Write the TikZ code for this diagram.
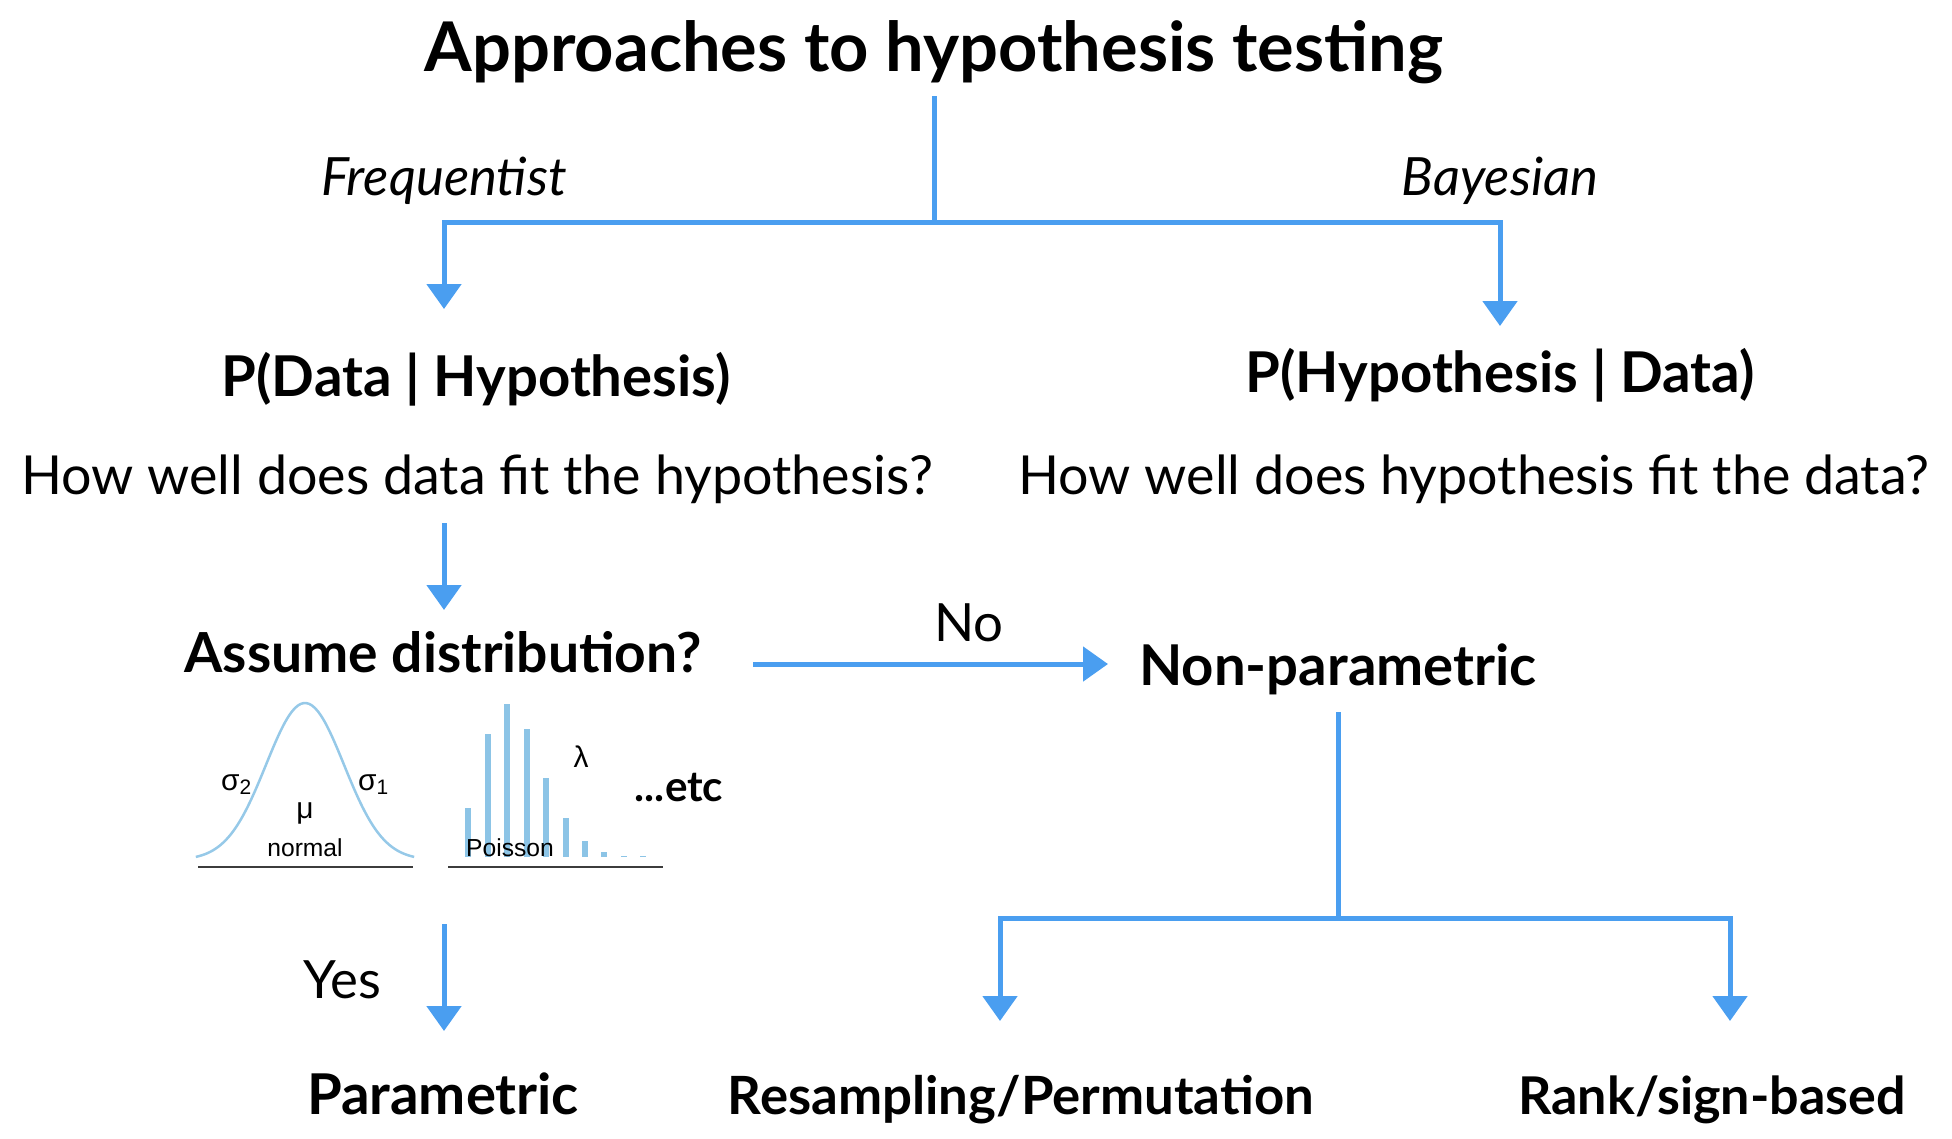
\documentclass[tikz,border=0pt]{standalone}
\usepackage{fontspec}
\setmainfont{Lato}
\newfontfamily\plotfont{Liberation Sans}
\usetikzlibrary{arrows.meta}

\definecolor{flowblue}{RGB}{74,158,240}
\definecolor{curveblue}{RGB}{150,201,232}
\definecolor{barblue}{RGB}{140,196,230}
\definecolor{axisgray}{RGB}{60,60,60}

\tikzset{
  flow/.style={flowblue, line width=0.05cm},
  flowarrow/.style={flow, -{Triangle[length=0.25cm, width=0.34cm]}},
  heading/.style={anchor=base, inner sep=0pt, font=\fontsize{19.5}{22}\selectfont\bfseries},
  branch/.style={anchor=base, inner sep=0pt, font=\fontsize{15}{18}\selectfont\itshape},
  stage/.style={anchor=base, inner sep=0pt, font=\fontsize{16}{19}\selectfont\bfseries},
  question/.style={anchor=base, inner sep=0pt, font=\fontsize{15.3}{18}\selectfont},
  plotsym/.style={anchor=base, inner sep=0pt, font=\plotfont\fontsize{8.5}{10}\selectfont},
  plotname/.style={anchor=base, inner sep=0pt, font=\plotfont\fontsize{7}{8}\selectfont},
}

\begin{document}
\begin{tikzpicture}[x=0.01cm, y=-0.01cm]
\useasboundingbox (0,0) rectangle (1952,1138);

% Texts
\node[heading] (title) at (934,71) {Approaches to hypothesis testing};
\node[branch] (freq) at (444,195) {Frequentist};
\node[branch] (bayes) at (1500,195) {Bayesian};
\node[stage] (pdata) at (476,396) {P(Data | Hypothesis)};
\node[stage] (phyp) at (1500,392) {P(Hypothesis | Data)};
\node[question] (fitdata) at (477,494) {How well does data fit the hypothesis?};
\node[question] (fithyp) at (1474,494) {How well does hypothesis fit the data?};
\node[stage, font=\fontsize{15.7}{19}\selectfont\bfseries] (assume) at (443,672) {Assume distribution?};
\node[question, font=\fontsize{15}{18}\selectfont] (nolabel) at (969,641) {No};
\node[stage] (nonpar) at (1338,685) {Non-parametric};
\node[question, font=\fontsize{15}{18}\selectfont] (yeslabel) at (342,998) {Yes};
\node[stage] (param) at (443,1114) {Parametric};
\node[stage, font=\fontsize{15}{19}\selectfont\bfseries] (resamp) at (1021,1114) {Resampling/Permutation};
\node[stage, font=\fontsize{14.8}{19}\selectfont\bfseries] (rank) at (1712,1114) {Rank/sign-based};

% Connector points
\coordinate (toptee) at (934,222);
\coordinate (freqtip) at (444,309);
\coordinate (bayestip) at (1500,326);
\coordinate (fittail) at (444,523);
\coordinate (assumetip) at (444,610);
\coordinate (notail) at (753,664);
\coordinate (notip) at (1108,664);
\coordinate (nptail) at (1338,712);
\coordinate (nptee) at (1338,918);
\coordinate (resamptip) at (1000,1021);
\coordinate (ranktip) at (1730,1021);
\coordinate (yestail) at (444,924);
\coordinate (yestip) at (444,1031);

% Connectors
\draw[flow, shorten <=0.12cm] (title.south) -- (toptee);
\draw[flowarrow] (toptee) -| (freqtip);
\draw[flowarrow] (toptee) -| (bayestip);
\draw[flowarrow] (fittail) -- (assumetip);
\draw[flowarrow] (notail) -- (notip);
\draw[flow] (nptail) -- (nptee);
\draw[flowarrow] (nptee) -| (resamptip);
\draw[flowarrow] (nptee) -| (ranktip);
\draw[flowarrow] (yestail) -- (yestip);

% Normal curve
\draw[curveblue, line width=0.025cm] plot[domain=-2.8:2.8, samples=80, smooth]
  ({305+39*\x},{860-157*exp(-\x*\x/2)});
\draw[axisgray, line width=0.02cm] (198,867) -- (413,867);
\node[plotsym] (sigtwo) at (237,790) {σ\textsubscript{2}};
\node[plotsym] (sigone) at (374,790) {σ\textsubscript{1}};
\node[plotsym] (mu) at (305,818) {μ};
\node[plotname] (normal) at (305,856) {normal};

% Poisson bars
\foreach \x/\h in {468/49, 488/123, 507/153, 527/128, 546/79, 566/39, 585/16, 604/5, 624/1.5, 643/1} {
  \fill[barblue] ({\x-3},857) rectangle ++(6,-\h);
}
\draw[axisgray, line width=0.02cm] (448,867) -- (663,867);
\node[plotsym] (lambda) at (581,767) {λ};
\node[plotname] (poisson) at (510,856) {Poisson};
\node[anchor=base, inner sep=0pt, font=\fontsize{12}{14}\selectfont\bfseries] (etc) at (679,801) {...etc};

\end{tikzpicture}
\end{document}
